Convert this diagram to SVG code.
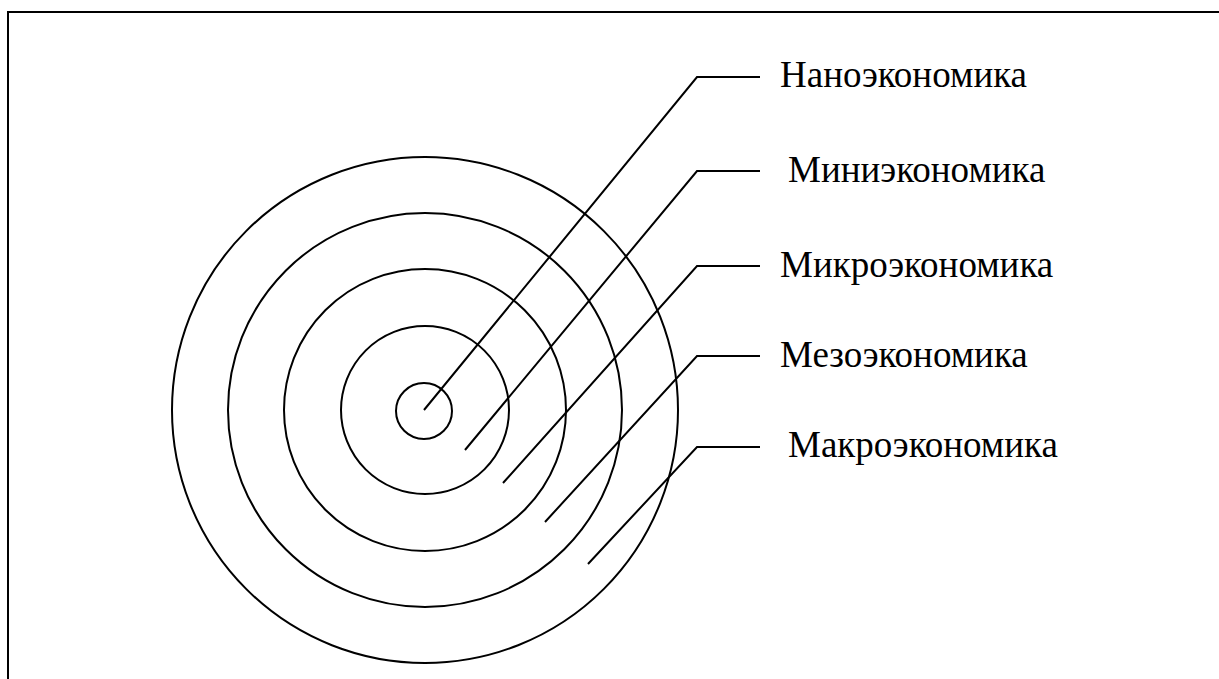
<svg xmlns="http://www.w3.org/2000/svg" width="1219" height="679" viewBox="0 0 1219 679">
<style>
.c{fill:none;stroke:#000;stroke-width:2}
.l{fill:none;stroke:#000;stroke-width:2}
.t{font-family:"Liberation Serif","Times New Roman",serif;font-size:37px;fill:#000}
</style>
<rect width="1219" height="679" fill="#fff"/>
<path d="M8 679 V12 H1219" fill="none" stroke="#000" stroke-width="2"/>
<g id="circles">
<circle id="macro" class="c" cx="425" cy="410" r="253"/>
<circle id="meso" class="c" cx="425" cy="410" r="197"/>
<circle id="micro" class="c" cx="425" cy="410" r="141"/>
<circle id="mini" class="c" cx="425" cy="410" r="84"/>
<circle id="nano" class="c" cx="424" cy="411" r="28"/>
</g>
<g id="connectors">
<polyline class="l" points="424,410 697,77 760,77"/>
<polyline class="l" points="465,450 697,171 760,171"/>
<polyline class="l" points="503,483 697,266 760,266"/>
<polyline class="l" points="545,522 697,356 760,356"/>
<polyline class="l" points="588,564 697,447 760,447"/>
</g>
<g id="label-nano"><text class="t" x="780" y="87">Наноэкономика</text></g>
<g id="label-mini"><text class="t" x="788" y="182">Миниэкономика</text></g>
<g id="label-micro"><text class="t" x="780" y="277">Микроэкономика</text></g>
<g id="label-meso"><text class="t" x="780" y="367">Мезоэкономика</text></g>
<g id="label-macro"><text class="t" x="788" y="457">Макроэкономика</text></g>
</svg>
